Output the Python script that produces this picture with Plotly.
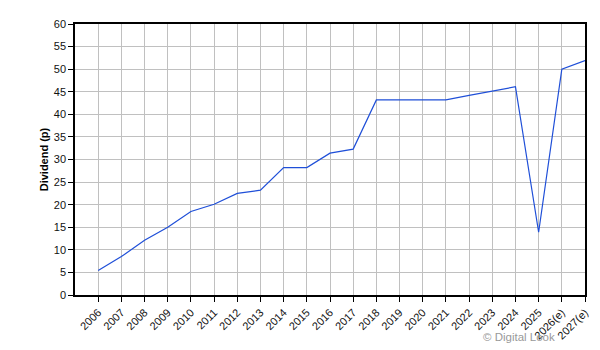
import plotly.graph_objects as go

years = ["2006", "2007", "2008", "2009", "2010", "2011", "2012", "2013", "2014", "2015",
         "2016", "2017", "2018", "2019", "2020", "2021", "2022", "2023", "2024", "2025",
         "2026(e)", "2027(e)"]
dividend = [5.4, 8.5, 12.1, 15.0, 18.5, 20.1, 22.5, 23.2, 28.2, 28.2,
            31.4, 32.3, 43.2, 43.2, 43.2, 43.2, 44.2, 45.2, 46.1, 13.9,
            50.0, 51.9]
y_ticks = list(range(0, 61, 5))

font = "Liberation Sans, Arial, sans-serif"

fig = go.Figure()
fig.add_trace(go.Scatter(x=years, y=dividend, mode="lines",
                         line=dict(color="#1f4fd8", width=1.2), showlegend=False,
                         hoverinfo="skip"))

fig.update_layout(
    width=600, height=350,
    margin=dict(l=75, r=15, t=24, b=55, autoexpand=False),
    paper_bgcolor="white", plot_bgcolor="white",
    font=dict(family=font, size=11, color="#000"),
)
fig.update_xaxes(
    type="category", categoryorder="array", categoryarray=years,
    range=[-1, len(years) - 1], automargin=False,
    showgrid=True, gridcolor="#c0c0c0", gridwidth=1,
    showline=True, linecolor="#000", linewidth=1.5, mirror=True,
    ticks="outside", ticklen=5, tickcolor="#000",
    tickangle=-45, tickfont=dict(family=font, size=11, color="#111"),
    zeroline=False,
)
fig.update_yaxes(
    range=[0, 60], tickvals=y_ticks, ticktext=[str(v) for v in y_ticks],
    automargin=False,
    showgrid=True, gridcolor="#c0c0c0", gridwidth=1,
    showline=True, linecolor="#000", linewidth=1.5, mirror=True,
    ticks="outside", ticklen=5, tickcolor="#000",
    tickfont=dict(family=font, size=11, color="#111"),
    title=dict(text="<b>Dividend (p)</b>", font=dict(family=font, size=11, color="#000"), standoff=3),
    zeroline=False,
)
fig.add_annotation(text="© Digital Look", xref="paper", yref="paper",
                   x=0.945, y=-0.155, xanchor="right", yanchor="middle",
                   showarrow=False, font=dict(family=font, size=11.5, color="#999"))

fig.write_html("out.html")
